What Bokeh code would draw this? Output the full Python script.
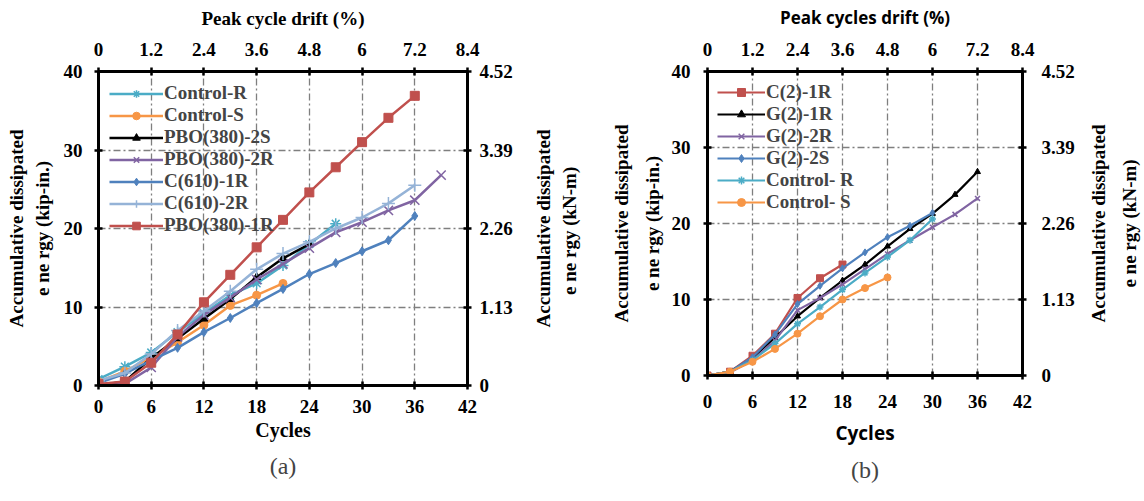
import math
from bokeh.plotting import figure
from bokeh.layouts import row
from bokeh.models import (Range1d, LinearAxis, FixedTicker, CustomJSTickFormatter,
                          Legend, LegendItem, Title)
from bokeh.embed import file_html
from bokeh.resources import INLINE

# ---------------- data (panel a) ----------------
a_x13 = [0, 3, 6, 9, 12, 15, 18, 21, 24, 27, 30, 33, 36]
a_ctrl_r_x = [0, 3, 6, 9, 12, 15, 18, 21, 24, 27]
a_ctrl_r_y = [0.8, 2.4, 4.2, 6.8, 9.2, 11.5, 13.0, 15.3, 18.0, 20.6]
a_ctrl_s_x = [0, 3, 6, 9, 12, 15, 18, 21]
a_ctrl_s_y = [0.5, 1.8, 3.6, 5.5, 7.7, 10.2, 11.5, 13.0]
a_pbo2s_x = [0, 3, 6, 9, 12, 15, 18, 21, 24]
a_pbo2s_y = [0.0, 0.5, 3.5, 6.0, 8.5, 11.0, 13.8, 16.2, 18.0]
a_pbo2r_x = [0, 3, 6, 9, 12, 15, 18, 21, 24, 27, 30, 33, 36, 39]
a_pbo2r_y = [0.0, 0.2, 2.3, 6.2, 9.0, 11.2, 13.5, 15.5, 17.5, 19.5, 20.8, 22.3, 23.6, 26.8]
a_c1r_y = [0.3, 1.5, 3.2, 4.8, 6.8, 8.6, 10.5, 12.3, 14.2, 15.6, 17.1, 18.5, 21.6]
a_c2r_y = [0.6, 1.6, 4.0, 7.0, 9.5, 12.0, 14.8, 16.8, 18.3, 20.0, 21.4, 23.2, 25.5]
a_pbo1r_y = [0.2, 0.5, 2.9, 6.5, 10.6, 14.1, 17.6, 21.1, 24.6, 27.8, 31.0, 34.1, 36.9]

# ---------------- data (panel b) ----------------
b_c21r_x = [0, 3, 6, 9, 12, 15, 18]
b_c21r_y = [0, 0.5, 2.6, 5.5, 10.2, 12.8, 14.6]
b_x13 = [0, 3, 6, 9, 12, 15, 18, 21, 24, 27, 30, 33, 36]
b_g21r_y = [0, 0.5, 2.3, 5.0, 7.8, 10.2, 12.5, 14.6, 17.0, 19.3, 21.3, 23.8, 26.8]
b_g22r_y = [0, 0.4, 2.0, 4.6, 8.6, 10.2, 12.0, 14.0, 16.0, 17.8, 19.5, 21.2, 23.3]
b_x11 = [0, 3, 6, 9, 12, 15, 18, 21, 24, 27, 30]
b_g22s_y = [0, 0.5, 2.4, 5.4, 9.4, 11.8, 14.1, 16.2, 18.2, 19.7, 21.4]
b_ctrl_r_y = [0, 0.5, 2.0, 4.2, 6.8, 9.0, 11.3, 13.5, 15.6, 17.8, 20.6]
b_ctrl_s_x = [0, 3, 6, 9, 12, 15, 18, 21, 24]
b_ctrl_s_y = [0, 0.5, 1.8, 3.5, 5.5, 7.8, 10.0, 11.5, 12.9]

# ---------------- ticks ----------------
cycle_ticks = [0, 6, 12, 18, 24, 30, 36, 42]
drift_ticks = [0, 1.2, 2.4, 3.6, 4.8, 6.0, 7.2, 8.4]
energy_ticks = [0, 10, 20, 30, 40]
kn_ticks = [0, 1.13, 2.26, 3.39, 4.52]

TEAL = "#4BACC6"
ORANGE = "#F79646"
BLACK = "#000000"
PURPLE = "#8064A2"
BLUE = "#4F81BD"
LBLUE = "#95B3D7"
RED = "#C0504D"

SERIF = "Liberation Serif"


def style_axis(ax, font, label_size="19px"):
    ax.axis_line_width = 3
    ax.axis_line_color = "black"
    ax.major_tick_line_width = 2.5
    ax.major_tick_line_color = "black"
    ax.major_tick_in = 4
    ax.major_tick_out = 4
    ax.minor_tick_line_color = None
    ax.major_label_text_font = SERIF
    ax.major_label_text_font_style = "bold"
    ax.major_label_text_font_size = "19px"
    ax.major_label_text_color = "black"
    ax.axis_label_text_font = font
    ax.axis_label_text_font_style = "bold"
    ax.axis_label_text_font_size = label_size
    ax.axis_label_text_color = "black"


def make_panel(frame_w, frame_h, bl, br, bt, bb, top_label, title_font, caption, s):
    p = figure(frame_width=frame_w, frame_height=frame_h, output_backend="svg",
               toolbar_location=None, x_range=Range1d(0, 42), y_range=Range1d(0, 40),
               min_border_left=bl, min_border_right=br, min_border_top=bt,
               min_border_bottom=bb, x_axis_location=None, y_axis_location=None)
    p.extra_x_ranges = {"drift": Range1d(0, 8.4)}
    p.extra_y_ranges = {"kn": Range1d(0, 4.52)}

    xb = LinearAxis(ticker=FixedTicker(ticks=cycle_ticks), axis_label="Cycles")
    style_axis(xb, title_font, s["cyc_size"])
    xb.major_label_standoff = s["xb_std"]
    xb.axis_label_standoff = s["xb_lab"]
    p.add_layout(xb, "below")

    xt = LinearAxis(x_range_name="drift", ticker=FixedTicker(ticks=drift_ticks),
                    axis_label=top_label,
                    formatter=CustomJSTickFormatter(code="return (Math.round(tick*10)/10).toString();"))
    style_axis(xt, title_font, s["top_size"])
    xt.major_label_standoff = 12
    xt.axis_label_standoff = 11
    p.add_layout(xt, "above")

    yl = LinearAxis(ticker=FixedTicker(ticks=energy_ticks),
                    axis_label="Accumulative dissipated\ne ne rgy (kip-in.)")
    style_axis(yl, SERIF)
    yl.major_label_standoff = s["yl_std"]
    yl.axis_label_standoff = s["yl_lab"]
    yl.axis_label_text_line_height = s["lh"]
    p.add_layout(yl, "left")

    yr = LinearAxis(y_range_name="kn", ticker=FixedTicker(ticks=kn_ticks),
                    formatter=CustomJSTickFormatter(code="return tick == 0 ? '0' : tick.toFixed(2);"))
    style_axis(yr, SERIF)
    yr.major_label_standoff = s["yr_std"]
    p.add_layout(yr, "right")

    p.xgrid.ticker = FixedTicker(ticks=[6, 12, 18, 24, 30, 36])
    p.ygrid.ticker = FixedTicker(ticks=[10, 20, 30])
    for g in (p.xgrid, p.ygrid):
        g.grid_line_color = "#7F7F7F"
        g.grid_line_width = 1.3
        g.grid_line_dash = "7 3 2 3"

    p.outline_line_color = "black"
    p.outline_line_width = 3
    p.background_fill_color = "white"
    p.border_fill_color = "white"

    cap = Title(text=caption, align="center", text_font="Liberation Serif",
                text_font_size="24px", text_font_style="normal", standoff=s["cap_std"])
    p.add_layout(cap, "below")
    return p


def make_side_label(text, frame_h, bl, br, bt, bb, lh):
    # narrow companion figure whose left-axis label acts as the right-hand axis title
    q = figure(frame_width=2, frame_height=frame_h, output_backend="svg",
               toolbar_location=None, x_range=Range1d(0, 1), y_range=Range1d(0, 1),
               min_border_left=bl, min_border_right=br, min_border_top=bt,
               min_border_bottom=bb, x_axis_location=None, y_axis_location=None)
    ax = LinearAxis(ticker=FixedTicker(ticks=[]), axis_label=text)
    ax.axis_line_color = None
    ax.major_tick_line_color = None
    ax.minor_tick_line_color = None
    ax.major_tick_in = 0
    ax.major_tick_out = 0
    ax.major_label_standoff = 0
    ax.axis_label_standoff = 0
    ax.axis_label_text_font = SERIF
    ax.axis_label_text_font_style = "bold"
    ax.axis_label_text_font_size = "19px"
    ax.axis_label_text_color = "black"
    ax.axis_label_text_line_height = lh
    q.add_layout(ax, "left")
    q.xgrid.visible = False
    q.ygrid.visible = False
    q.outline_line_color = None
    q.background_fill_color = "white"
    q.border_fill_color = "white"
    return q


def add_series(p, xs, ys, color, marker, size, lw, label, items):
    r1 = p.line(xs, ys, line_color=color, line_width=lw)
    if marker in ("x", "cross", "asterisk"):
        r2 = p.scatter(xs, ys, marker=marker, size=size, line_color=color,
                       line_width=1.5)
    else:
        r2 = p.scatter(xs, ys, marker=marker, size=size, fill_color=color,
                       line_color=color)
    items.append(LegendItem(label=label, renderers=[r1, r2]))


# ---------------- panel (a) ----------------
sa = dict(cyc_size="20px", top_size="19px", xb_std=10, xb_lab=3, yl_std=12, yl_lab=8,
          yr_std=8, cap_std=14, lh=1.2)
pa = make_panel(369, 314, 98, 60, 71, 108, "Peak cycle drift (%)", SERIF, "(a)", sa)
items_a = []
add_series(pa, a_ctrl_r_x, a_ctrl_r_y, TEAL, "asterisk", 11, 2.5, "Control-R", items_a)
add_series(pa, a_ctrl_s_x, a_ctrl_s_y, ORANGE, "circle", 8, 2.5, "Control-S", items_a)
add_series(pa, a_pbo2s_x, a_pbo2s_y, BLACK, "triangle", 8, 2.5, "PBO(380)-2S", items_a)
add_series(pa, a_pbo2r_x, a_pbo2r_y, PURPLE, "x", 13, 2.5, "PBO(380)-2R", items_a)
add_series(pa, a_x13, a_c1r_y, BLUE, "diamond", 9, 2.5, "C(610)-1R", items_a)
add_series(pa, a_x13, a_c2r_y, LBLUE, "cross", 13, 2.5, "C(610)-2R", items_a)
add_series(pa, a_x13, a_pbo1r_y, RED, "square", 9, 2.5, "PBO(380)-1R", items_a)

leg_a = Legend(items=items_a, location="top_left", label_text_font=SERIF,
               label_text_font_style="bold", label_text_font_size="19px",
               label_text_line_height=1.0,
               glyph_width=54, glyph_height=19, label_height=19, spacing=0,
               padding=1, margin=11, label_standoff=1,
               background_fill_alpha=0, border_line_color=None)
pa.add_layout(leg_a)

la = make_side_label("Accumulative dissipated\ne ne rgy  (kN-m)", 314, 52, 7, 71, 108, 1.2)

# ---------------- panel (b) ----------------
sb = dict(cyc_size="19px", top_size="17px", xb_std=15, xb_lab=9, yl_std=13, yl_lab=6,
          yr_std=15, cap_std=12, lh=1.45)
pb = make_panel(315, 304, 119, 63, 71, 118, "Peak cycles drift (%)", "Open Sans", "(b)", sb)
items_b = []
add_series(pb, b_c21r_x, b_c21r_y, RED, "square", 7, 2.2, "C(2)-1R", items_b)
add_series(pb, b_x13, b_g21r_y, BLACK, "triangle", 6, 2.2, "G(2)-1R", items_b)
add_series(pb, b_x13, b_g22r_y, PURPLE, "x", 7, 2.2, "G(2)-2R", items_b)
add_series(pb, b_x11, b_g22s_y, BLUE, "diamond", 7, 2.2, "G(2)-2S", items_b)
add_series(pb, b_x11, b_ctrl_r_y, TEAL, "asterisk", 7, 2.2, "Control- R", items_b)
add_series(pb, b_ctrl_s_x, b_ctrl_s_y, ORANGE, "circle", 7, 2.2, "Control- S", items_b)

leg_b = Legend(items=items_b, location="top_left", label_text_font=SERIF,
               label_text_font_style="bold", label_text_font_size="19px",
               label_text_line_height=1.0,
               glyph_width=48, glyph_height=20, label_height=20, spacing=0,
               padding=1, margin=10, label_standoff=1,
               background_fill_alpha=0, border_line_color=None)
pb.add_layout(leg_b)

lb = make_side_label("Accumulative dissipated\ne ne rgy (kN-m)", 304, 51, 0, 71, 118, 1.45)

layout = row(pa, la, pb, lb)
open("out.html", "w").write(file_html(layout, INLINE))
